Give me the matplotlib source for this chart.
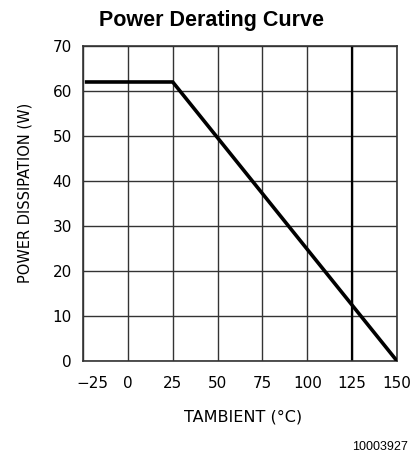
import matplotlib
matplotlib.use("Agg")
import matplotlib.pyplot as plt
from matplotlib.transforms import ScaledTranslation

temp = [-24, 25, 150]
power = [62, 62, 0]
xticks = [-25, 0, 25, 50, 75, 100, 125, 150]
yticks = [0, 10, 20, 30, 40, 50, 60, 70]

fig = plt.figure(figsize=(4.14, 4.58), dpi=100)
ax = fig.add_axes([0.2005, 0.2118, 0.7585, 0.6878])
ax.set_xlim(-25, 150)
ax.set_ylim(0, 70)
ax.set_xticks(xticks)
ax.set_yticks(yticks)
ax.set_xticklabels([str(t).replace('-', '\u2212') for t in xticks])
ax.grid(True, color='#333333', linewidth=1.0)
for x in xticks:
    if x == 125:
        ax.axvline(x, color='black', linewidth=1.6, zorder=2)
ax.plot(temp, power, color='black', linewidth=2.6, solid_capstyle='butt', zorder=3)
ax.tick_params(axis='x', length=0, pad=10.5, labelsize=11)
ax.tick_params(axis='y', length=0, pad=8, labelsize=11)
first = ax.get_xticklabels()[0]
first.set_transform(first.get_transform() + ScaledTranslation(0.09, 0, fig.dpi_scale_trans))
for s in ax.spines.values():
    s.set_color('#333333')
    s.set_linewidth(1.2)
ax.set_xlabel('TAMBIENT (\u00b0C)', fontsize=11.5)
ax.xaxis.set_label_coords(0.51, -0.155)
ax.set_ylabel('POWER DISSIPATION (W)', fontsize=10.5)
ax.yaxis.set_label_coords(-0.162, 0.535)
fig.text(0.512, 0.955, 'Power Derating Curve', ha='center', va='center',
         fontsize=15.5, fontweight='bold', family='Liberation Sans')
fig.text(0.986, 0.024, '10003927', ha='right', va='center', fontsize=9,
         family='Liberation Sans')
fig.savefig('out.png', dpi=100)
